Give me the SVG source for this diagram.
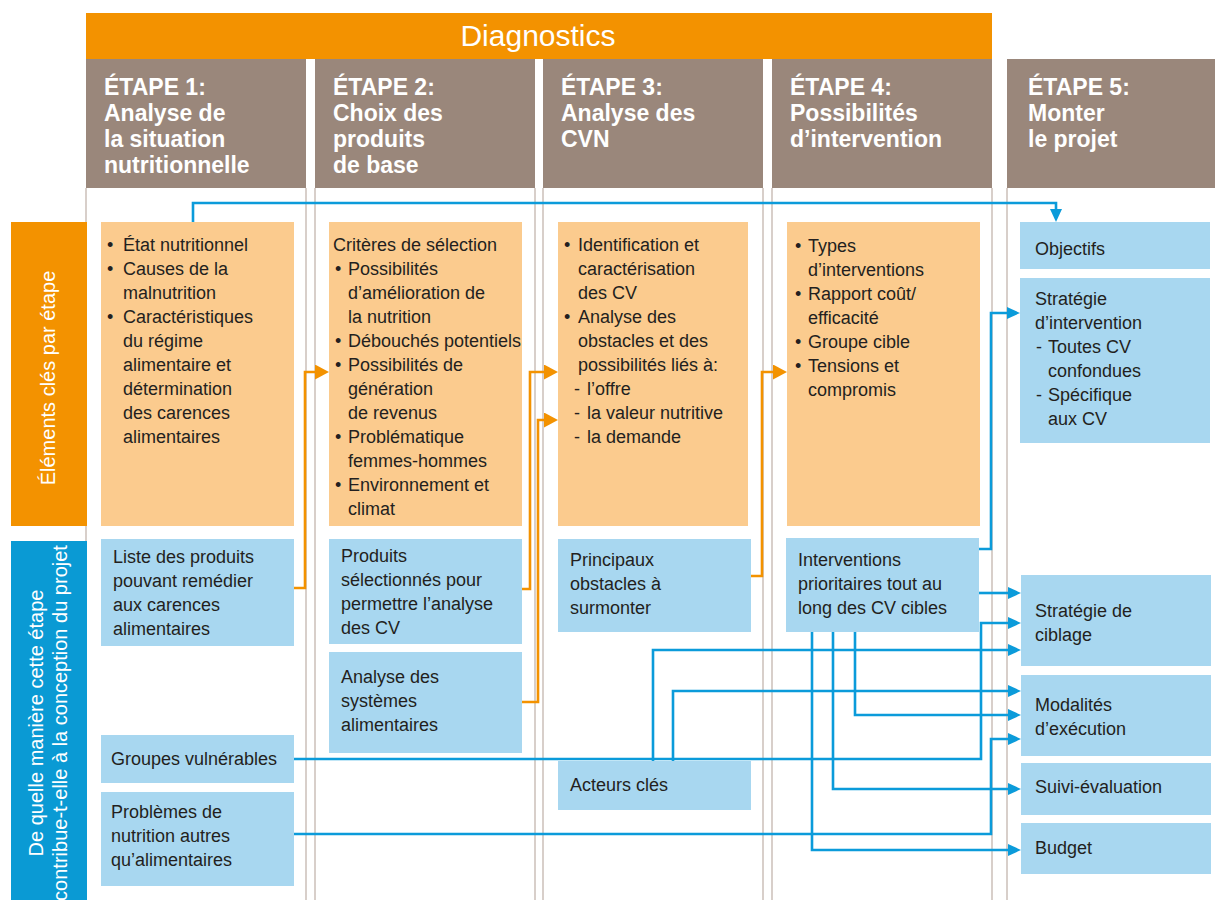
<svg xmlns="http://www.w3.org/2000/svg" width="1215" height="900" viewBox="0 0 1215 900">
<style>
text{font-family:"Liberation Sans",Arial,sans-serif;}
.t{font-size:18px;fill:#231F20;}
.h{font-size:23px;font-weight:bold;fill:#FFFFFF;}
.lab{font-size:20px;fill:#FFFFFF;}
.ob{fill:#FBCB8E;}
.bb{fill:#A8D7F0;}
.hd{fill:#9A877B;}
.col{stroke:#CBBFB8;stroke-width:1.5;fill:none;}
.cb{stroke:#0B9BDA;stroke-width:2.6;fill:none;marker-end:url(#ab);}
.co{stroke:#F39200;stroke-width:2.6;fill:none;marker-end:url(#ao);}
</style>
<defs>
<marker id="ab" viewBox="0 0 13 12" refX="0" refY="6" markerWidth="13" markerHeight="12" markerUnits="userSpaceOnUse" orient="auto"><path d="M0,0 L13,6 L0,12 z" fill="#0B9BDA"/></marker>
<marker id="ao" viewBox="0 0 14 15" refX="0" refY="7.5" markerWidth="14" markerHeight="15" markerUnits="userSpaceOnUse" orient="auto"><path d="M0,0 L14,7.5 L0,15 z" fill="#F39200"/></marker>
</defs>
<rect x="0" y="0" width="1215" height="900" fill="#FFFFFF"/>

<g id="column-lines">
<line class="col" x1="86" y1="188" x2="86" y2="900"/>
<line class="col" x1="306" y1="188" x2="306" y2="900"/>
<line class="col" x1="315" y1="188" x2="315" y2="900"/>
<line class="col" x1="535" y1="188" x2="535" y2="900"/>
<line class="col" x1="543" y1="188" x2="543" y2="900"/>
<line class="col" x1="763" y1="188" x2="763" y2="900"/>
<line class="col" x1="772" y1="188" x2="772" y2="900"/>
<line class="col" x1="992" y1="188" x2="992" y2="900"/>
<line class="col" x1="1007" y1="188" x2="1007" y2="900"/>
</g>

<g id="diagnostics">
<rect x="86" y="13" width="906" height="46" fill="#F39200"/>
<text x="538" y="46" text-anchor="middle" style="font-size:30px;fill:#FFFFFF;">Diagnostics</text>
</g>

<g id="etape1-header">
<rect class="hd" x="86" y="59" width="220" height="129"/>
<text class="h"><tspan x="104" y="95">ÉTAPE 1:</tspan><tspan x="104" y="121">Analyse de</tspan><tspan x="104" y="147">la situation</tspan><tspan x="104" y="173">nutritionnelle</tspan></text>
</g>
<g id="etape2-header">
<rect class="hd" x="315" y="59" width="220" height="129"/>
<text class="h"><tspan x="333" y="95">ÉTAPE 2:</tspan><tspan x="333" y="121">Choix des</tspan><tspan x="333" y="147">produits</tspan><tspan x="333" y="173">de base</tspan></text>
</g>
<g id="etape3-header">
<rect class="hd" x="543" y="59" width="220" height="129"/>
<text class="h"><tspan x="561" y="95">ÉTAPE 3:</tspan><tspan x="561" y="121">Analyse des</tspan><tspan x="561" y="147">CVN</tspan></text>
</g>
<g id="etape4-header">
<rect class="hd" x="772" y="59" width="220" height="129"/>
<text class="h"><tspan x="790" y="95">ÉTAPE 4:</tspan><tspan x="790" y="121">Possibilités</tspan><tspan x="790" y="147">d’intervention</tspan></text>
</g>
<g id="etape5-header">
<rect class="hd" x="1007" y="59" width="208" height="129"/>
<text class="h"><tspan x="1028" y="95">ÉTAPE 5:</tspan><tspan x="1028" y="121">Monter</tspan><tspan x="1028" y="147">le projet</tspan></text>
</g>

<g id="label-elements">
<rect x="11" y="222" width="76" height="304" fill="#F39200"/>
<text class="lab" transform="translate(55,378) rotate(-90)" text-anchor="middle">Éléments clés par étape</text>
</g>
<g id="label-contribution">
<rect x="11" y="541" width="76" height="359" fill="#0A9AD4"/>
<text class="lab" transform="translate(43,723) rotate(-90)" text-anchor="middle">De quelle manière cette étape</text>
<text class="lab" transform="translate(67,723) rotate(-90)" text-anchor="middle">contribue-t-elle à la conception du projet</text>
</g>

<g id="e1-elements">
<rect class="ob" x="101" y="222" width="193" height="304"/>
<text class="t"><tspan x="107" y="251">•</tspan><tspan x="123" y="251">État nutritionnel</tspan><tspan x="107" y="275">•</tspan><tspan x="123" y="275">Causes de la</tspan><tspan x="123" y="299">malnutrition</tspan><tspan x="107" y="323">•</tspan><tspan x="123" y="323">Caractéristiques</tspan><tspan x="123" y="347">du régime</tspan><tspan x="123" y="371">alimentaire et</tspan><tspan x="123" y="395">détermination</tspan><tspan x="123" y="419">des carences</tspan><tspan x="123" y="443">alimentaires</tspan></text>
</g>
<g id="e2-elements">
<rect class="ob" x="329" y="222" width="193" height="304"/>
<text class="t"><tspan x="333" y="251">Critères de sélection</tspan><tspan x="335" y="275">•</tspan><tspan x="348" y="275">Possibilités</tspan><tspan x="348" y="299">d’amélioration de</tspan><tspan x="348" y="323">la nutrition</tspan><tspan x="335" y="347">•</tspan><tspan x="348" y="347">Débouchés potentiels</tspan><tspan x="335" y="371">•</tspan><tspan x="348" y="371">Possibilités de</tspan><tspan x="348" y="395">génération</tspan><tspan x="348" y="419">de revenus</tspan><tspan x="335" y="443">•</tspan><tspan x="348" y="443">Problématique</tspan><tspan x="348" y="467">femmes-hommes</tspan><tspan x="335" y="491">•</tspan><tspan x="348" y="491">Environnement et</tspan><tspan x="348" y="515">climat</tspan></text>
</g>
<g id="e3-elements">
<rect class="ob" x="558" y="222" width="190" height="304"/>
<text class="t"><tspan x="564" y="251">•</tspan><tspan x="578" y="251">Identification et</tspan><tspan x="578" y="275">caractérisation</tspan><tspan x="578" y="299">des CV</tspan><tspan x="564" y="323">•</tspan><tspan x="578" y="323">Analyse des</tspan><tspan x="578" y="347">obstacles et des</tspan><tspan x="578" y="371">possibilités liés à:</tspan><tspan x="574" y="395">-</tspan><tspan x="587" y="395">l’offre</tspan><tspan x="574" y="419">-</tspan><tspan x="587" y="419">la valeur nutritive</tspan><tspan x="574" y="443">-</tspan><tspan x="587" y="443">la demande</tspan></text>
</g>
<g id="e4-elements">
<rect class="ob" x="787" y="222" width="193" height="304"/>
<text class="t"><tspan x="795" y="252">•</tspan><tspan x="808" y="252">Types</tspan><tspan x="808" y="276">d’interventions</tspan><tspan x="795" y="300">•</tspan><tspan x="808" y="300">Rapport coût/</tspan><tspan x="808" y="324">efficacité</tspan><tspan x="795" y="348">•</tspan><tspan x="808" y="348">Groupe cible</tspan><tspan x="795" y="372">•</tspan><tspan x="808" y="372">Tensions et</tspan><tspan x="808" y="396">compromis</tspan></text>
</g>

<g id="liste-produits">
<rect class="bb" x="101" y="539" width="193" height="107"/>
<text class="t"><tspan x="113" y="563">Liste des produits</tspan><tspan x="113" y="587">pouvant remédier</tspan><tspan x="113" y="611">aux carences</tspan><tspan x="113" y="635">alimentaires</tspan></text>
</g>
<g id="groupes-vulnerables">
<rect class="bb" x="101" y="735" width="193" height="48"/>
<text class="t" x="111" y="765">Groupes vulnérables</text>
</g>
<g id="problemes-nutrition">
<rect class="bb" x="101" y="792" width="193" height="94"/>
<text class="t"><tspan x="111" y="818">Problèmes de</tspan><tspan x="111" y="842">nutrition autres</tspan><tspan x="111" y="866">qu’alimentaires</tspan></text>
</g>
<g id="produits-selectionnes">
<rect class="bb" x="329" y="539" width="193" height="105"/>
<text class="t"><tspan x="341" y="562">Produits</tspan><tspan x="341" y="586">sélectionnés pour</tspan><tspan x="341" y="610">permettre l’analyse</tspan><tspan x="341" y="634">des CV</tspan></text>
</g>
<g id="analyse-systemes">
<rect class="bb" x="329" y="652" width="193" height="101"/>
<text class="t"><tspan x="341" y="683">Analyse des</tspan><tspan x="341" y="707">systèmes</tspan><tspan x="341" y="731">alimentaires</tspan></text>
</g>
<g id="principaux-obstacles">
<rect class="bb" x="558" y="539" width="193" height="93"/>
<text class="t"><tspan x="570" y="566">Principaux</tspan><tspan x="570" y="590">obstacles à</tspan><tspan x="570" y="614">surmonter</tspan></text>
</g>
<g id="acteurs-cles">
<rect class="bb" x="558" y="761" width="193" height="49"/>
<text class="t" x="570" y="791">Acteurs clés</text>
</g>
<g id="interventions-prioritaires">
<rect class="bb" x="786" y="538" width="193" height="94"/>
<text class="t"><tspan x="798" y="566">Interventions</tspan><tspan x="798" y="590">prioritaires tout au</tspan><tspan x="798" y="614">long des CV cibles</tspan></text>
</g>
<g id="objectifs">
<rect class="bb" x="1020" y="222" width="190" height="47"/>
<text class="t" x="1035" y="255">Objectifs</text>
</g>
<g id="strategie-intervention">
<rect class="bb" x="1020" y="278" width="190" height="165"/>
<text class="t"><tspan x="1035" y="305">Stratégie</tspan><tspan x="1035" y="329">d’intervention</tspan><tspan x="1036" y="353">-</tspan><tspan x="1048" y="353">Toutes CV</tspan><tspan x="1048" y="377">confondues</tspan><tspan x="1036" y="401">-</tspan><tspan x="1048" y="401">Spécifique</tspan><tspan x="1048" y="425">aux CV</tspan></text>
</g>
<g id="strategie-ciblage">
<rect class="bb" x="1021" y="575" width="190" height="91"/>
<text class="t"><tspan x="1035" y="617">Stratégie de</tspan><tspan x="1035" y="641">ciblage</tspan></text>
</g>
<g id="modalites-execution">
<rect class="bb" x="1021" y="675" width="190" height="81"/>
<text class="t"><tspan x="1035" y="711">Modalités</tspan><tspan x="1035" y="735">d’exécution</tspan></text>
</g>
<g id="suivi-evaluation">
<rect class="bb" x="1021" y="763" width="190" height="52"/>
<text class="t" x="1035" y="793">Suivi-évaluation</text>
</g>
<g id="budget">
<rect class="bb" x="1021" y="823" width="190" height="51"/>
<text class="t" x="1035" y="854">Budget</text>
</g>

<g id="connectors">
<path class="co" d="M294,588 H305 V372 H315"/>
<path class="co" d="M522,589 H530 V372 H544"/>
<path class="co" d="M522,702 H538 V420 H544"/>
<path class="co" d="M751,576 H762 V372 H773"/>
<path class="cb" d="M193,222 V203 H1056 V209"/>
<path class="cb" d="M979,549 H991 V313 H1007"/>
<path class="cb" d="M979,593 H1008"/>
<path class="cb" d="M294,759 H981 V623 H1008"/>
<path class="cb" d="M653,761 V650 H1008"/>
<path class="cb" d="M673,761 V691 H1008"/>
<path class="cb" d="M855,632 V715 H1008"/>
<path class="cb" d="M294,834 H991 V739 H1008"/>
<path class="cb" d="M833,632 V789 H1008"/>
<path class="cb" d="M812,632 V850 H1008"/>
</g>
</svg>
